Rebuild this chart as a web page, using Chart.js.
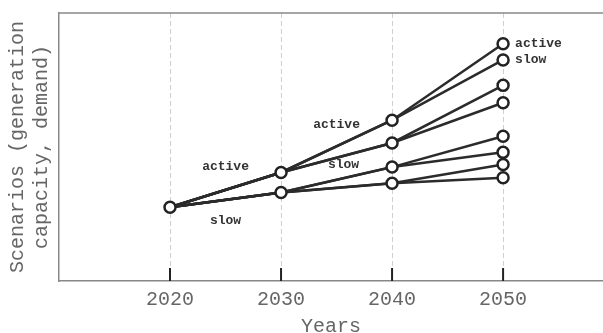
<!DOCTYPE html>
<html>
<head>
<meta charset="utf-8">
<script src="https://cdn.jsdelivr.net/npm/chart.js@4/dist/chart.umd.min.js"></script>
<style>
  body { margin: 0; background: #fff; }
  #wrap { width: 603px; height: 333px; }
</style>
</head>
<body>
<div id="wrap"><canvas id="treeChart" width="603" height="333"></canvas></div>
<script>
  // scenario tree values (arbitrary units)
  var years = [2020, 2030, 2040, 2050];
  var start2020 = [27.5];
  var level2030 = [40.5, 33];                    // active, slow
  var level2040 = [60, 51.5, 42.5, 36.5];
  var level2050 = [88.5, 82.5, 73, 66.5, 54, 48, 43.5, 38.5];
  var branchLabels = ['active', 'slow'];

  var mono = "'Liberation Mono', 'DejaVu Sans Mono', monospace";
  var levels = [start2020, level2030, level2040, level2050];

  // one line dataset per path through the tree
  var pathSets = level2050.map(function (v, i) {
    return {
      type: 'line',
      data: [
        { x: years[0], y: start2020[0] },
        { x: years[1], y: level2030[Math.floor(i / 4)] },
        { x: years[2], y: level2040[Math.floor(i / 2)] },
        { x: years[3], y: v }
      ],
      borderColor: '#2b2b2b',
      borderWidth: 2.5,
      pointRadius: 0,
      fill: false,
      order: 2
    };
  });

  // all nodes, drawn on top of the lines
  var nodes = [];
  levels.forEach(function (arr, k) {
    arr.forEach(function (v) { nodes.push({ x: years[k], y: v }); });
  });
  var nodeSet = {
    type: 'scatter',
    data: nodes,
    pointRadius: 5.5,
    pointBackgroundColor: '#fff',
    pointBorderColor: '#222',
    pointBorderWidth: 2.5,
    order: 1
  };

  var framePlugin = {
    id: 'frame',
    beforeDatasetsDraw: function (chart) {
      var ctx = chart.ctx, a = chart.chartArea, xs = chart.scales.x;
      ctx.save();
      // top border
      ctx.strokeStyle = '#888';
      ctx.lineWidth = 1.5;
      ctx.beginPath();
      ctx.moveTo(a.left, a.top);
      ctx.lineTo(a.right, a.top);
      ctx.stroke();
      // inward tick marks
      ctx.strokeStyle = '#222';
      ctx.lineWidth = 2;
      years.forEach(function (y) {
        var px = xs.getPixelForValue(y);
        ctx.beginPath();
        ctx.moveTo(px, a.bottom);
        ctx.lineTo(px, a.bottom - 13);
        ctx.stroke();
      });
      ctx.restore();
    },
    afterDatasetsDraw: function (chart) {
      var ctx = chart.ctx, xs = chart.scales.x, ys = chart.scales.y;
      ctx.save();
      ctx.font = 'bold 13px ' + mono;
      ctx.fillStyle = '#333';
      ctx.textBaseline = 'middle';
      ctx.textAlign = 'center';
      // 2020 -> 2030 branches
      var x0 = xs.getPixelForValue(years[0]), x1 = xs.getPixelForValue(years[1]);
      var y0 = ys.getPixelForValue(start2020[0]);
      var ya = ys.getPixelForValue(level2030[0]), yb = ys.getPixelForValue(level2030[1]);
      ctx.fillText(branchLabels[0], (x0 + x1) / 2, (y0 + ya) / 2 - 23);
      ctx.fillText(branchLabels[1], (x0 + x1) / 2, (y0 + yb) / 2 + 21);
      // 2030 -> 2040 branches (from the active node)
      var x2 = xs.getPixelForValue(years[2]);
      var yc = ys.getPixelForValue(level2040[0]), yd = ys.getPixelForValue(level2040[1]);
      ctx.fillText(branchLabels[0], (x1 + x2) / 2, (ya + yc) / 2 - 22);
      ctx.fillText(branchLabels[1], (x1 + x2) / 2 + 7, (ya + yd) / 2 + 7);
      // 2040 -> 2050 branches, next to the top nodes
      var x3 = xs.getPixelForValue(years[3]);
      ctx.textAlign = 'left';
      ctx.fillText(branchLabels[0], x3 + 12, ys.getPixelForValue(level2050[0]));
      ctx.fillText(branchLabels[1], x3 + 12, ys.getPixelForValue(level2050[1]));
      ctx.restore();
    }
  };

  var ctx = document.getElementById('treeChart').getContext('2d');
  var treeChart = new Chart(ctx, {
    data: { datasets: [nodeSet].concat(pathSets) },
    options: {
      responsive: false,
      animation: false,
      layout: { autoPadding: false, padding: { top: 13, right: 0, bottom: 0, left: 0 } },
      plugins: { legend: { display: false }, tooltip: { enabled: false } },
      scales: {
        x: {
          type: 'linear',
          min: 2010,
          max: 2059,
          afterBuildTicks: function (scale) {
            scale.ticks = years.map(function (v) { return { value: v }; });
          },
          afterFit: function (scale) { scale.height = 52; },
          grid: { color: '#cfcfcf', lineWidth: 1, drawTicks: false },
          border: { display: true, color: '#888', width: 1.5, dash: [5, 3] },
          ticks: {
            padding: 7,
            color: '#666',
            font: { family: mono, size: 20 },
            callback: function (v) { return String(v); }
          },
          title: {
            display: true,
            text: 'Years',
            color: '#666',
            font: { family: mono, size: 20 },
            padding: { top: 0, bottom: -6 }
          }
        },
        y: {
          min: 0,
          max: 100,
          afterFit: function (scale) { scale.width = 59; },
          grid: { display: false },
          border: { display: true, color: '#888', width: 1.5 },
          ticks: { display: false },
          title: {
            display: true,
            text: ['Scenarios (generation', 'capacity, demand)'],
            color: '#666',
            font: { family: mono, size: 20 },
            padding: { top: 6, bottom: 0 }
          }
        }
      }
    },
    plugins: [framePlugin]
  });
</script>
</body>
</html>
